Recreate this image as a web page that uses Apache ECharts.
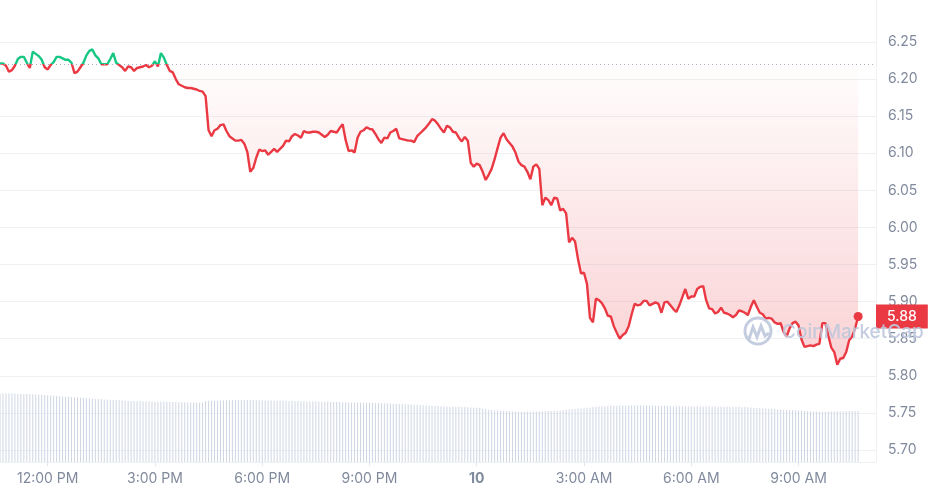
<!DOCTYPE html>
<html><head><meta charset="utf-8">
<script src="https://cdn.jsdelivr.net/npm/echarts@6/dist/echarts.min.js"></script>
<style>html,body{margin:0;padding:0;background:#fff}#c{width:928px;height:495px}</style>
</head><body><div id="c"></div>
<script>
// Price every 5 minutes, from 10:40 AM (day 9) to 10:40 AM (day 10)
const prices = [
6.221,6.221,6.218,6.210,6.212,6.218,6.227,6.230,6.230,6.222,
6.215,6.237,6.234,6.231,6.226,6.216,6.213,6.219,6.223,6.230,
6.230,6.228,6.226,6.226,6.222,6.208,6.210,6.216,6.222,6.232,
6.238,6.240,6.232,6.228,6.220,6.220,6.220,6.227,6.235,6.222,
6.219,6.216,6.211,6.217,6.216,6.211,6.215,6.216,6.217,6.219,
6.216,6.218,6.224,6.217,6.235,6.229,6.219,6.211,6.209,6.200,
6.193,6.191,6.189,6.188,6.188,6.187,6.186,6.184,6.183,6.177,
6.131,6.123,6.131,6.133,6.138,6.139,6.130,6.123,6.120,6.117,
6.117,6.118,6.113,6.102,6.075,6.080,6.094,6.105,6.103,6.104,
6.098,6.102,6.106,6.102,6.106,6.110,6.117,6.116,6.123,6.126,
6.124,6.121,6.130,6.128,6.128,6.129,6.129,6.128,6.125,6.122,
6.125,6.130,6.129,6.128,6.134,6.139,6.118,6.103,6.104,6.101,
6.121,6.129,6.131,6.135,6.133,6.132,6.126,6.119,6.114,6.121,
6.120,6.128,6.130,6.133,6.120,6.119,6.118,6.117,6.117,6.115,
6.123,6.127,6.131,6.135,6.140,6.146,6.144,6.139,6.133,6.128,
6.137,6.135,6.129,6.128,6.121,6.116,6.122,6.117,6.087,6.082,
6.086,6.084,6.075,6.064,6.071,6.079,6.092,6.107,6.121,6.127,
6.119,6.114,6.109,6.101,6.089,6.084,6.082,6.075,6.065,6.082,
6.085,6.079,6.030,6.040,6.037,6.030,6.040,6.039,6.023,6.025,
6.019,5.980,5.986,5.981,5.957,5.938,5.939,5.924,5.878,5.872,
5.904,5.902,5.898,5.891,5.881,5.880,5.867,5.858,5.850,5.855,
5.858,5.867,5.883,5.897,5.895,5.896,5.901,5.901,5.895,5.897,
5.899,5.897,5.885,5.899,5.900,5.895,5.890,5.886,5.895,5.906,
5.917,5.904,5.907,5.907,5.917,5.920,5.921,5.902,5.891,5.890,
5.884,5.886,5.892,5.885,5.884,5.882,5.879,5.882,5.888,5.887,
5.885,5.882,5.893,5.902,5.893,5.885,5.883,5.877,5.878,5.877,
5.872,5.870,5.871,5.859,5.853,5.864,5.871,5.873,5.868,5.849,
5.839,5.840,5.841,5.840,5.842,5.843,5.871,5.871,5.854,5.838,
5.832,5.815,5.823,5.824,5.832,5.848,5.853,5.864,5.880
];
// Volume (24h, millions) for each 5-minute step
const volumes = [
29.7,29.7,29.7,29.6,29.6,29.6,29.5,29.5,29.4,29.4,29.3,29.3,
29.2,29.2,29.1,29.0,28.9,28.8,28.7,28.6,28.5,28.4,28.3,
28.2,28.1,28.0,27.9,27.8,27.7,27.6,27.5,27.4,27.3,27.3,
27.2,27.1,27.0,26.9,26.8,26.8,26.7,26.6,26.5,26.5,26.4,26.4,
26.3,26.3,26.3,26.2,26.2,26.2,26.1,26.1,26.1,26.1,26.1,
26.0,26.0,26.0,25.9,25.9,25.9,25.8,25.8,25.8,25.8,25.8,
25.8,26.4,26.5,26.5,26.5,
26.6,26.6,26.6,26.7,26.7,26.7,26.8,26.8,26.8,26.8,26.8,26.8,
26.8,26.7,26.7,26.7,26.6,26.6,26.6,26.5,26.5,26.5,26.5,
26.4,26.4,26.4,26.3,26.3,26.3,26.3,26.2,26.2,26.2,26.2,26.1,26.1,26.1,26.1,26.0,
26.0,26.0,25.9,25.9,25.9,25.8,25.8,25.8,25.8,25.7,25.7,25.7,
25.6,25.6,25.5,25.5,25.4,25.4,25.3,25.3,25.2,25.2,25.1,
25.1,25.0,25.0,24.9,24.8,24.8,24.7,24.6,24.5,24.5,24.4,
24.3,24.2,24.1,24.0,24.0,23.9,23.9,23.9,23.9,23.8,23.8,
23.7,23.6,23.5,23.5,23.4,23.2,22.9,22.6,
22.5,22.4,22.3,22.2,22.1,22.0,22.0,21.9,21.9,21.8,21.8,21.8,
21.8,21.8,21.9,21.9,21.9,22.0,22.0,22.1,22.1,22.2,22.2,
22.3,22.4,22.6,22.7,22.8,22.9,23.0,23.2,23.3,23.5,23.6,23.8,23.9,
24.0,24.1,24.1,24.2,24.3,24.3,24.4,24.5,24.5,
24.5,24.5,24.6,24.6,24.6,24.6,24.5,24.5,24.5,24.5,
24.4,24.4,24.3,24.3,24.2,24.2,24.1,
24.1,24.1,24.1,24.1,24.1,24.1,24.0,24.0,24.0,24.0,24.0,24.0,24.0,24.0,23.9,23.9,23.9,23.9,23.9,23.9,23.9,23.9,
23.8,23.8,23.7,23.6,23.5,23.4,
23.3,23.2,23.2,23.1,23.0,22.9,22.8,22.7,22.6,22.6,22.5,
22.4,22.3,22.3,22.2,22.1,22.0,22.0,21.9,21.9,21.8,21.8,
21.8,21.8,21.9,21.9,22.0,22.0,22.0,22.1,22.1,22.1,22.1,22.1
];
const tickTimes = ['d9 12:00','d9 15:00','d9 18:00','d9 21:00','d10 00:00','d10 03:00','d10 06:00','d10 09:00'];
const tickLabels = ['12:00 PM','3:00 PM','6:00 PM','9:00 PM','10','3:00 AM','6:00 AM','9:00 AM'];
const openPrice = 6.221;

// time categories (5-minute steps), extending a little past the last point
const categories = [];
for (let i = 0; i < 295; i++) {
  const m = 640 + 5 * i;
  const day = m >= 1440 ? 10 : 9;
  const mm = m % 1440;
  categories.push('d' + day + ' ' + String(Math.floor(mm / 60)).padStart(2, '0') + ':' + String(mm % 60).padStart(2, '0'));
}
const lastIdx = prices.length - 1;
const lastPrice = prices[lastIdx];
const RED = '#ea3943', GREEN = '#16c784';
const WM = 'rgba(190,200,220,0.9)';
const isTick = (idx, val) => tickTimes.indexOf(categories[idx]) >= 0;

const chart = echarts.init(document.getElementById('c'), null, {renderer: 'canvas'});
chart.setOption({
  animation: false,
  textStyle: {fontFamily: 'Inter'},
  grid: [
    {left: 0, right: 52, top: 42, bottom: 45},
    {left: 0, right: 52, top: 0, bottom: 33}
  ],
  xAxis: [
    {type: 'category', gridIndex: 0, data: categories, boundaryGap: false,
     axisLine: {show: false}, axisTick: {show: false}, axisLabel: {show: false}, splitLine: {show: false}},
    {type: 'category', gridIndex: 1, data: categories, boundaryGap: false,
     axisLine: {show: true, lineStyle: {color: '#eff2f5'}},
     axisTick: {show: true, interval: isTick, length: 4, lineStyle: {color: '#e3e7ee'}},
     axisLabel: {interval: isTick, margin: 10, color: '#808a9d', fontSize: 14, fontFamily: 'Inter',
       formatter: function (v) {
         const k = tickTimes.indexOf(v);
         if (k < 0) return '';
         return tickLabels[k] === '10' ? '{b|10}' : tickLabels[k];
       },
       rich: {b: {fontWeight: 'bold', color: '#808a9d', fontSize: 14, fontFamily: 'Inter'}}
     },
     splitLine: {show: false}}
  ],
  yAxis: [
    {type: 'value', gridIndex: 0, position: 'right', min: 5.70, max: 6.25, interval: 0.05,
     axisLine: {show: false}, axisTick: {show: false},
     axisLabel: {margin: 12, color: '#808a9d', fontSize: 14, fontFamily: 'Inter', formatter: v => v.toFixed(2)},
     splitLine: {lineStyle: {color: '#eff2f5', width: 1}}},
    {type: 'value', gridIndex: 1, position: 'right', min: 0, max: 200,
     axisLine: {show: true, lineStyle: {color: '#eff2f5'}}, axisTick: {show: false},
     axisLabel: {show: false}, splitLine: {show: false}}
  ],
  visualMap: {
    show: false, type: 'piecewise', seriesIndex: 1, dimension: 1,
    pieces: [{min: 5.0, max: openPrice, color: RED}, {gt: openPrice, lte: 7.0, color: GREEN}],
    outOfRange: {color: RED}
  },
  graphic: [
    {type: 'circle', z: 10, shape: {cx: 758, cy: 331, r: 13}, style: {fill: 'none', stroke: WM, lineWidth: 3}},
    {type: 'polyline', z: 10, shape: {points: [[749, 339], [753, 327], [757, 337], [761, 326], [765, 336], [769, 333]]},
     style: {fill: 'none', stroke: WM, lineWidth: 3}},
    {type: 'text', z: 10, x: 782, y: 332, style: {text: 'CoinMarketCap', font: '500 19px Inter', fill: WM, verticalAlign: 'middle'}}
  ],
  series: [
    {type: 'bar', xAxisIndex: 1, yAxisIndex: 1, data: volumes, barWidth: 1, silent: true,
     itemStyle: {color: '#cfd6e4'}, z: 1},
    {type: 'line', xAxisIndex: 0, yAxisIndex: 0, data: prices, showSymbol: false, symbol: 'none',
     lineStyle: {width: 2.4}, z: 3,
     areaStyle: {origin: openPrice,
       color: new echarts.graphic.LinearGradient(0, 0, 0, 1, [
         {offset: 0, color: 'rgba(234,57,67,0)'},
         {offset: 1, color: 'rgba(234,57,67,0.32)'}
       ])},
     markLine: {
       silent: true, symbol: 'none',
       data: [
         {yAxis: openPrice, lineStyle: {type: [1, 3], color: '#a6b0c3', width: 1}, label: {show: false}},
         {yAxis: lastPrice, lineStyle: {color: 'rgba(0,0,0,0)', width: 1, type: 'solid'},
          label: {show: true, position: 'end', distance: 0,
           formatter: lastPrice.toFixed(2), backgroundColor: RED, color: '#fff', fontSize: 14,
           fontFamily: 'Inter', fontWeight: 500, padding: [5, 11, 5, 11]}}
       ]
     },
     markPoint: {
       symbol: 'circle', symbolSize: 9, label: {show: false}, silent: true,
       data: [{coord: [categories[lastIdx], lastPrice], itemStyle: {color: RED}}]
     }
    }
  ]
});
</script>
</body></html>
